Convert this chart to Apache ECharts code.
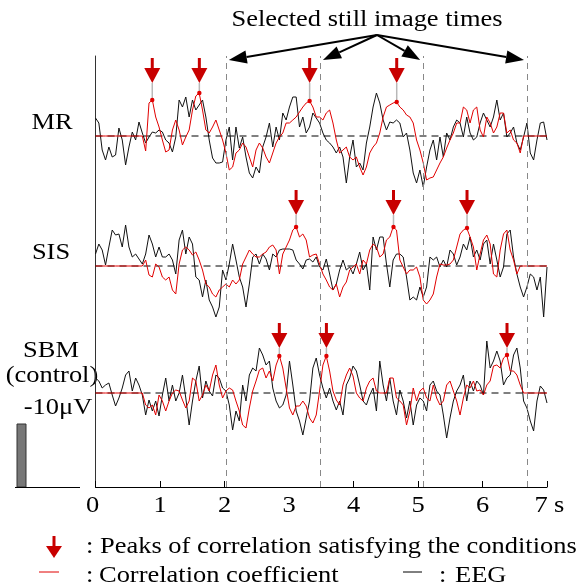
<!DOCTYPE html>
<html><head><meta charset="utf-8">
<script src="https://cdn.jsdelivr.net/npm/echarts@6/dist/echarts.min.js"></script>
<style>html,body{margin:0;padding:0;background:#fff}#c{width:582px;height:588px}</style>
</head><body><div id="c"></div>
<script>
// ---------------- data (values in trace units, 0 = row baseline, up positive) ----------------
const DURATION = 7; // seconds covered by each sampled trace
const tickValues = [0, 1, 2, 3, 4, 5, 6, 7];
const tickLabels = ['0', '1', '2', '3', '4', '5', '6', '7'];
const axisTickValues = [0, 1, 2, 3.48, 4, 5, 5.08, 6, 6.69, 7];
const stillTimes = [2.02, 3.48, 5.08, 6.69];

const mrEEG = [18,13,-14,-24,-11,-21,-19,8,-4,-29,
  -11,4,-4,14,3,-7,-1,4,3,6,
  4,-4,-7,-16,-1,36,29,39,19,36,
  26,31,36,19,-4,-22,-27,-27,-26,-4,
  9,-24,9,-12,-1,-21,-37,-42,-31,-37,
  -11,-1,13,-11,9,-4,23,16,29,39,
  39,9,19,3,9,23,18,13,3,-4,
  -7,-11,-17,-11,-21,-47,-21,-4,-31,-27,
  -34,-7,9,29,43,33,16,6,14,13,
  16,13,-1,3,-14,-37,-47,-34,-51,-31,
  -14,-4,-24,-1,-21,3,-4,9,16,13,
  -1,19,3,-4,-1,13,23,16,9,19,
  36,16,23,-1,3,9,-7,-14,-1,13,
  -17,-24,-4,13,14,-4];
const mrCorr = [0,0,0,0,0,0,0,0,0,0,
  0,0,0,0,0,-15,33,36,19,9,
  -4,-16,-14,6,16,6,-9,-1,6,26,
  40,43,26,6,3,9,16,6,-4,-17,
  -34,-31,-17,-14,-7,-11,-21,-31,-14,-7,
  -12,-21,-27,-17,-7,-1,3,13,13,16,
  19,24,29,33,35,29,19,19,16,23,
  26,13,-4,-17,-14,-11,-21,-24,-21,-31,
  -39,-31,-17,-11,-7,3,19,29,31,33,
  34,29,26,21,19,13,-4,-14,-27,-44,
  -42,-41,-34,-27,-21,-12,-4,3,13,13,
  29,26,13,26,29,6,-1,19,13,3,
  9,23,23,3,6,-4,-7,-17,0,0,
  0,0,0,0,0,0];
const sisEEG = [12,22,16,1,19,36,31,32,19,41,
  19,9,12,7,2,12,31,22,9,19,
  9,9,12,6,-8,26,36,12,29,22,
  -11,-14,-31,-14,-34,-41,-51,-41,-4,-14,
  2,22,6,-11,-21,-41,-18,9,12,2,
  12,7,-4,12,9,16,17,17,17,16,
  6,2,-3,6,7,4,9,-1,-4,7,
  -8,-24,-18,-4,6,-4,-1,-8,2,14,
  -4,2,-24,29,16,29,29,2,-21,6,
  12,12,9,-11,-34,-31,-34,-21,-31,-21,
  9,6,9,-1,6,-1,16,12,1,9,
  22,16,29,9,16,6,22,26,2,22,
  6,-11,-1,32,36,9,-8,-21,-31,-21,
  -8,-11,-24,-11,-51,-1];
const sisCorr = [0,0,0,0,0,0,0,0,0,0,
  0,0,0,0,0,6,-9,-11,2,-1,
  -11,-14,-11,-24,-28,2,16,19,16,11,
  14,6,-4,-18,-21,-28,-31,-24,-21,-18,
  -21,-14,-18,-14,2,9,16,12,9,9,
  12,14,19,21,16,-8,12,19,26,36,
  39,29,32,26,9,11,12,2,-8,-14,
  -21,-24,-18,-31,-21,-16,-4,-1,2,-8,
  6,2,16,22,19,9,12,26,29,39,
  36,6,-1,-8,-4,-4,-1,-11,-34,-38,
  -34,-28,-11,2,1,1,2,6,19,32,
  36,38,29,19,-4,12,26,31,22,-8,
  -11,16,32,36,16,6,-8,0,0,0,
  0,0,0,0,0,0];
const sbmEEG = [15,12,5,8,10,-2,-13,-5,5,18,
  22,2,15,8,-2,-22,-7,-18,-8,-23,
  -2,15,-8,8,-8,0,18,-5,-32,-8,
  12,27,-5,12,2,-3,18,15,5,2,
  -12,-37,-18,-28,8,-8,18,25,22,45,
  38,28,32,5,-8,-15,-12,-2,32,8,
  -18,-28,-42,-25,-8,25,35,18,5,-5,
  5,-8,-17,-8,-22,8,15,27,22,8,
  -8,-12,-2,5,-18,32,8,-8,15,-8,
  -22,3,-8,-25,-8,-32,-12,-5,-8,-18,
  8,12,2,-2,-22,-45,-25,-8,2,8,
  18,-8,12,2,12,8,-2,52,25,32,
  42,32,8,15,18,38,45,25,-8,-15,
  -28,-38,-8,7,3,-10];
const sbmCorr = [0,0,0,0,0,0,0,0,0,0,
  0,0,0,0,0,-12,-15,-12,-22,-2,
  -8,-18,-8,0,3,2,-7,-15,-8,15,
  12,-8,-2,8,2,18,28,8,-5,2,
  5,3,-8,-18,-32,-35,-15,2,12,23,
  25,15,22,12,28,37,25,5,-15,-22,
  -13,-13,-8,-13,-25,-30,-22,2,28,37,
  22,2,-7,-12,8,18,25,17,0,-5,
  -8,5,12,15,2,0,0,0,15,15,
  -5,-8,-12,-32,-18,5,-8,2,5,-5,
  -8,8,-5,-12,-8,8,12,2,-8,-22,
  -5,8,5,12,2,3,-2,8,12,27,
  28,25,35,38,22,22,18,8,0,0,
  0,0,0,0,0,0];

const mrPeakTimes = [0.88, 1.61, 3.32, 4.67];
const sisPeakTimes = [3.11, 4.62, 5.76];
const sbmPeakTimes = [2.85, 3.58, 6.38];

// ---------------- layout / style ----------------
const GRID_TOP = 56, GRID_BOTTOM_PX = 487, CHART_H = 588;
const Y_MAX = GRID_BOTTOM_PX - GRID_TOP; // 1 unit = 1 px
const rows = [
  {name: 'MR', base: 351, eeg: mrEEG, corr: mrCorr, peaks: mrPeakTimes, tip: 53},
  {name: 'SIS', base: 221, eeg: sisEEG, corr: sisCorr, peaks: sisPeakTimes, tip: 51},
  {name: 'SBM', base: 94, eeg: sbmEEG, corr: sbmCorr, peaks: sbmPeakTimes, tip: 45}
];
const RED = '#e00000', ARROW_RED = '#c80000';
const FONT = '"Liberation Serif", "Times New Roman", serif';
const SX = 1.15;
const ORIGIN_T = 4.364, ORIGIN_Y = 35, STILL_TIP_Y = 60;

function toXY(values, base) {
  const n = values.length;
  return values.map((v, i) => [i * DURATION / (n - 1), base + v]);
}
function valAt(values, t) {
  return values[Math.round(t * (values.length - 1) / DURATION)];
}
function textEl(x, y, s, align, size) {
  align = align || 'center';
  return {type: 'text', x: x, y: y, scaleX: SX, silent: true,
    style: {text: s, font: (size || 23) + 'px ' + FONT, fill: '#000',
      align: align, textAlign: align, verticalAlign: 'middle', textVerticalAlign: 'middle'}};
}

const series = [];
// selected still-image vertical dashed lines
series.push({type: 'line', data: [], silent: true,
  markLine: {silent: true, symbol: 'none', label: {show: false},
    lineStyle: {color: '#888', type: [6, 5], width: 1},
    data: stillTimes.map(t => ({xAxis: t}))}});
rows.forEach(r => {
  series.push({type: 'line', data: [[0, r.base], [DURATION, r.base]], symbol: 'none', silent: true,
    lineStyle: {color: '#000', width: 1, type: [7, 5]}});
  series.push({type: 'line', data: toXY(r.eeg, r.base), symbol: 'none', silent: true,
    lineStyle: {color: '#111', width: 1}});
  series.push({type: 'line', data: toXY(r.corr, r.base), symbol: 'none', silent: true,
    lineStyle: {color: RED, width: 1}});
  series.push({type: 'custom', silent: true, clip: false,
    data: r.peaks.map(t => [t, r.base + valAt(r.corr, t), r.base + r.tip]),
    renderItem: function (params, api) {
      const p = api.coord([api.value(0), api.value(1)]);
      const q = api.coord([api.value(0), api.value(2)]);
      const x = p[0];
      return {type: 'group', children: [
        {type: 'line', shape: {x1: x, y1: p[1], x2: x, y2: q[1]}, style: {stroke: '#b8b8b8', lineWidth: 1.5}},
        {type: 'circle', shape: {cx: x, cy: p[1], r: 2.2}, style: {fill: RED}},
        {type: 'polygon', shape: {points: [[x - 8, q[1] - 15], [x + 8, q[1] - 15], [x, q[1]]]}, style: {fill: ARROW_RED}},
        {type: 'rect', shape: {x: x - 1.5, y: q[1] - 25, width: 3, height: 11}, style: {fill: ARROW_RED}}
      ]};
    }});
});
// arrows from the "Selected still image times" caption
series.push({type: 'custom', silent: true, clip: false,
  data: stillTimes.map(t => [t]),
  renderItem: function (params, api) {
    const ox = api.coord([ORIGIN_T, 0])[0], oy = ORIGIN_Y;
    const lx = api.coord([api.value(0), 0])[0];
    const tx = lx + (lx < ox ? 3 : -3), ty = STILL_TIP_Y;
    let dx = tx - ox, dy = ty - oy; const L = Math.hypot(dx, dy); dx /= L; dy /= L;
    const bx = tx - 18 * dx, by = ty - 18 * dy, nx = -dy, ny = dx;
    return {type: 'group', children: [
      {type: 'line', shape: {x1: ox, y1: oy, x2: bx, y2: by}, style: {stroke: '#000', lineWidth: 2}},
      {type: 'polygon', shape: {points: [[tx, ty], [bx + 6.5 * nx, by + 6.5 * ny], [bx - 6.5 * nx, by - 6.5 * ny]]}, style: {fill: '#000'}}
    ]};
  }});
// x tick labels (end labels sit slightly left of their ticks, as in the reference)
series.push({type: 'custom', silent: true, clip: false,
  data: tickValues.map((v, i) => [v, i]),
  renderItem: function (params, api) {
    const p = api.coord([api.value(0), 0]);
    const i = api.value(1);
    const dx = i === 0 ? -3 : (i === tickLabels.length - 1 ? -6 : 0);
    return textEl(p[0] + dx, p[1] + 19, tickLabels[i]);
  }});

const graphic = [
  textEl(367, 20, 'Selected still image times'),
  textEl(52, 123, 'MR'),
  textEl(51, 253, 'SIS'),
  textEl(51, 351, 'SBM'),
  textEl(52, 376, '(control)'),
  textEl(58, 408, '-10μV'),
  textEl(554, 506, 's', 'left'),
  {type: 'rect', shape: {x: 17, y: 424, width: 9, height: 63}, style: {fill: '#777', stroke: '#333', lineWidth: 1}},
  {type: 'line', shape: {x1: 15, y1: 487.5, x2: 80, y2: 487.5}, style: {stroke: '#000', lineWidth: 1}},
  // legend
  {type: 'rect', shape: {x: 52.5, y: 536, width: 3, height: 11}, style: {fill: ARROW_RED}},
  {type: 'polygon', shape: {points: [[46, 546], [62, 546], [54, 558]]}, style: {fill: ARROW_RED}},
  textEl(86, 547, ':', 'left'),
  textEl(100, 547, 'Peaks of correlation satisfying the conditions', 'left'),
  {type: 'line', shape: {x1: 39, y1: 572, x2: 59, y2: 572}, style: {stroke: RED, lineWidth: 1}},
  textEl(86, 576, ':', 'left'),
  textEl(99, 576, 'Correlation coefficient', 'left'),
  {type: 'line', shape: {x1: 403, y1: 572, x2: 422, y2: 572}, style: {stroke: '#000', lineWidth: 1}},
  textEl(439, 576, ':', 'left'),
  textEl(455, 576, 'EEG', 'left')
];

const chart = echarts.init(document.getElementById('c'), null, {renderer: 'canvas'});
chart.setOption({
  animation: false,
  backgroundColor: '#fff',
  grid: {left: 95.5, right: 35, top: GRID_TOP, bottom: CHART_H - GRID_BOTTOM_PX},
  xAxis: {type: 'value', min: 0, max: DURATION, interval: 1,
    axisLine: {show: true, onZero: false, lineStyle: {color: '#000', width: 1}},
    axisTick: {show: true, inside: true, length: 6, customValues: axisTickValues, lineStyle: {color: '#000'}},
    axisLabel: {show: false}, splitLine: {show: false}},
  yAxis: {type: 'value', min: 0, max: Y_MAX,
    axisLine: {show: true, lineStyle: {color: '#333', width: 1}},
    axisTick: {show: false}, axisLabel: {show: false}, splitLine: {show: false}},
  series: series,
  graphic: graphic
});
</script>
</body></html>
